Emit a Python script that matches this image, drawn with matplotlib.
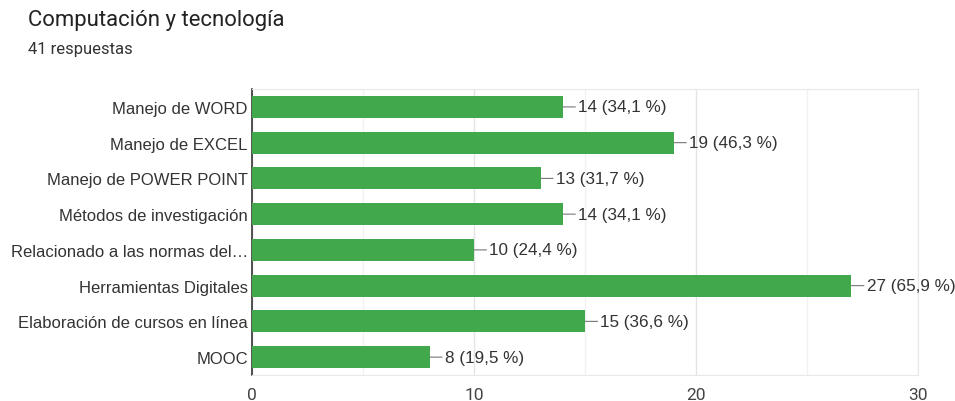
import matplotlib
matplotlib.use("Agg")
import matplotlib.pyplot as plt
import numpy as np

categories = [
    "Manejo de WORD",
    "Manejo de EXCEL",
    "Manejo de POWER POINT",
    "Métodos de investigación",
    "Relacionado a las normas del…",
    "Herramientas Digitales",
    "Elaboración de cursos en línea",
    "MOOC",
]
counts = [14, 19, 13, 14, 10, 27, 15, 8]
percents = ["34,1", "46,3", "31,7", "34,1", "24,4", "65,9", "36,6", "19,5"]
x_ticks = [0, 10, 20, 30]

BAR_COLOR = "#41a94b"
TEXT_COLOR = "#333333"

fig = plt.figure(figsize=(9.55, 4.02), dpi=100)
ax = fig.add_axes([0.2639, 0.0647, 0.9613 - 0.2639, 0.776 - 0.0647])

y = np.arange(len(categories))
ax.barh(y, counts, height=0.62, color=BAR_COLOR, zorder=3)

# value labels with a short leader line
for yi, c, p in zip(y, counts, percents):
    ax.annotate(
        f"{c} ({p} %)",
        xy=(c, yi),
        xytext=(11, 0),
        textcoords="offset points",
        ha="left",
        va="center",
        fontsize=12.3,
        family="Liberation Sans",
        color=TEXT_COLOR,
        arrowprops=dict(arrowstyle="-", color="#777777", lw=0.8, shrinkA=0, shrinkB=0),
        zorder=4,
    )

ax.set_xlim(0, 30)
ax.set_ylim(len(categories) - 0.5, -0.5)
ax.set_yticks(y)
ax.set_yticklabels(categories, fontsize=12, family="Liberation Sans", color=TEXT_COLOR)
ax.set_xticks(x_ticks)
ax.set_xticklabels([str(t) for t in x_ticks], fontsize=12.5, family="Roboto", color="#444444")
ax.set_xticks([5, 15, 25], minor=True)
ax.tick_params(axis="both", which="both", length=0, pad=3)
ax.tick_params(axis="x", pad=9)

ax.grid(True, axis="x", which="major", color="#e4e4e4", lw=1, zorder=0)
ax.grid(True, axis="x", which="minor", color="#f2f2f2", lw=1, zorder=0)
ax.set_axisbelow(True)

for side in ["top", "right", "bottom"]:
    ax.spines[side].set_color("#e8e8e8")
ax.spines["left"].set_color("#333333")
ax.spines["left"].set_linewidth(1.2)

fig.text(0.029, 0.948, "Computación y tecnología", fontsize=15.9, family="Roboto",
         color="#222222", va="center")
fig.text(0.029, 0.876, "41 respuestas", fontsize=12, family="Roboto",
         color="#333333", va="center")

fig.savefig("out.png", dpi=100)
